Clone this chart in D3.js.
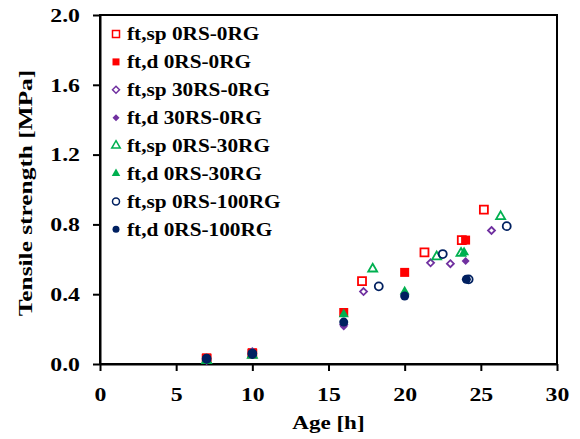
<!DOCTYPE html>
<meta charset="utf-8">
<head>
<style type='text/css'>
  body {
    margin: 0;
    background: #fff;
    font-family: 'Liberation Serif', 'Times New Roman', serif;
  }
  .axis text {
    font-family: 'Liberation Serif', 'Times New Roman', serif;
    font-size: 19.5px;
    font-weight: bold;
    fill: #000;
  }
  .axis path, .axis line {
    stroke: #000;
    stroke-width: 2px;
  }
  .title {
    font-size: 19.5px;
    font-weight: bold;
  }
  .legend text {
    font-size: 18.5px;
    font-weight: bold;
  }
</style>
</head>
<body>
<div id="chart"></div>
<script src="https://d3js.org/d3.v7.min.js"></script>
<script>
// series names
var names = ["ft,sp 0RS-0RG", "ft,d 0RS-0RG", "ft,sp 30RS-0RG", "ft,d 30RS-0RG",
             "ft,sp 0RS-30RG", "ft,d 0RS-30RG", "ft,sp 0RS-100RG", "ft,d 0RS-100RG"];

// age [h] and tensile strength [MPa] for each series
var sp0X   = [7, 10, 17.2, 21.3, 23.75, 25.2];
var sp0Y   = [0.03, 0.06, 0.475, 0.64, 0.71, 0.885];
var d0X    = [7, 10, 16, 20, 24];
var d0Y    = [0.035, 0.065, 0.295, 0.525, 0.71];
var sp30X  = [7, 10, 16, 17.3, 21.7, 23, 25.7];
var sp30Y  = [0.02, 0.06, 0.225, 0.415, 0.58, 0.575, 0.765];
var d30X   = [7, 10, 16, 20, 24];
var d30Y   = [0.02, 0.075, 0.215, 0.39, 0.59];
var sp30gX = [7, 10, 17.9, 22.1, 23.7, 26.3];
var sp30gY = [0.02, 0.05, 0.545, 0.615, 0.635, 0.845];
var d30gX  = [7, 10, 16, 20, 23.9];
var d30gY  = [0.02, 0.055, 0.285, 0.415, 0.64];
var sp100X = [7, 10, 18.3, 22.5, 24.2, 26.7];
var sp100Y = [0.03, 0.06, 0.445, 0.63, 0.485, 0.79];
var d100X  = [7, 10, 16, 20, 24.05];
var d100Y  = [0.03, 0.055, 0.24, 0.39, 0.485];

var xTicks = [0, 5, 10, 15, 20, 25, 30];
var yTicks = [0, 0.4, 0.8, 1.2, 1.6, 2.0];

var seriesX = [sp0X, d0X, sp30X, d30X, sp30gX, d30gX, sp100X, d100X];
var seriesY = [sp0Y, d0Y, sp30Y, d30Y, sp30gY, d30gY, sp100Y, d100Y];
var colors = ["#ff0000", "#ff0000", "#7030a0", "#7030a0", "#00b050", "#00b050", "#002060", "#002060"];
var shapes = ["square", "square", "diamond", "diamond", "triangle", "triangle", "circle", "circle"];

var width = 580, height = 439,
    margin = {top: 15, right: 23, bottom: 75, left: 100},
    w = width - margin.left - margin.right,
    h = height - margin.top - margin.bottom;

var svg = d3.select("#chart").append("svg")
    .attr("width", width)
    .attr("height", height);

var g = svg.append("g").attr("transform", "translate(" + margin.left + "," + margin.top + ")");

var x = d3.scaleLinear().domain([0, 30]).range([0, w]);
var y = d3.scaleLinear().domain([0, 2]).range([h, 0]);

// the reference text is a little wider than the font, stretch it
function stretch(sel, k) {
  sel.each(function() {
    var len = this.getComputedTextLength();
    d3.select(this).attr("textLength", len * k).attr("lengthAdjust", "spacingAndGlyphs");
  });
}

// frame
g.append("rect")
    .attr("width", w)
    .attr("height", h)
    .attr("fill", "none")
    .attr("stroke", "#000")
    .attr("stroke-width", 2);

var xAxis = g.append("g")
    .attr("class", "axis")
    .attr("transform", "translate(0," + h + ")")
    .call(d3.axisBottom(x).tickValues(xTicks).tickSize(7).tickSizeOuter(0).tickPadding(16));

var yAxis = g.append("g")
    .attr("class", "axis")
    .call(d3.axisLeft(y).tickValues(yTicks).tickFormat(d3.format(".1f")).tickSize(7).tickSizeOuter(0).tickPadding(13));

xAxis.selectAll("text").call(stretch, 1.22);
yAxis.selectAll("text").call(stretch, 1.22);

// symbol path builder
function marker(shape, s) {
  if (shape == "square") return d3.symbol().type(d3.symbolSquare).size(s * s)();
  if (shape == "circle") return d3.symbol().type(d3.symbolCircle).size(Math.PI * s * s / 4)();
  if (shape == "triangle") return d3.symbol().type(d3.symbolTriangle).size(Math.sqrt(3) / 4 * s * s)();
  var r = s * 0.5;
  return "M0," + (-r) + "L" + r + ",0L0," + r + "L" + (-r) + ",0Z";
}

function styleMarker(sel, i, s) {
  var open = i % 2 == 0;
  sel.attr("d", marker(shapes[i], s))
     .attr("fill", open ? "#fff" : colors[i])
     .attr("fill-opacity", open ? 0 : 1)
     .attr("stroke", open ? colors[i] : "none")
     .attr("stroke-width", 1.8);
}

// points
seriesX.forEach(function(xs, i) {
  var pts = xs.map(function(v, j) { return [v, seriesY[i][j]]; });
  var sz = shapes[i] == "diamond" ? 8 : (shapes[i] == "triangle" ? 10 : 9);
  if (i % 2 == 0) sz -= 1;
  g.append("g").selectAll("path")
      .data(pts)
    .enter().append("path")
      .attr("transform", function(d) { return "translate(" + x(d[0]) + "," + y(d[1]) + ")"; })
      .call(styleMarker, i, sz);
});

// legend
var legend = g.append("g")
    .attr("class", "legend")
  .selectAll("g")
    .data(names)
  .enter().append("g")
    .attr("transform", function(d, i) { return "translate(16," + (19 + i * 27.9) + ")"; });

legend.append("path")
    .each(function(d, i) {
      var s = shapes[i] == "triangle" ? 8.5 : 7;
      d3.select(this).call(styleMarker, i, s).attr("stroke-width", 1.5);
    });

legend.append("text")
    .attr("x", 11)
    .attr("dy", "0.35em")
    .text(function(d) { return d; })
    .call(stretch, 1.15);

// axis titles
svg.append("text")
    .attr("class", "title")
    .attr("x", margin.left + w / 2)
    .attr("y", 429)
    .attr("text-anchor", "middle")
    .text("Age [h]")
    .call(stretch, 1.18);

svg.append("text")
    .attr("class", "title")
    .attr("transform", "translate(32," + (margin.top + 178) + ") rotate(-90)")
    .attr("text-anchor", "middle")
    .text("Tensile strength [MPa]")
    .call(stretch, 1.3);
</script>
</body>
